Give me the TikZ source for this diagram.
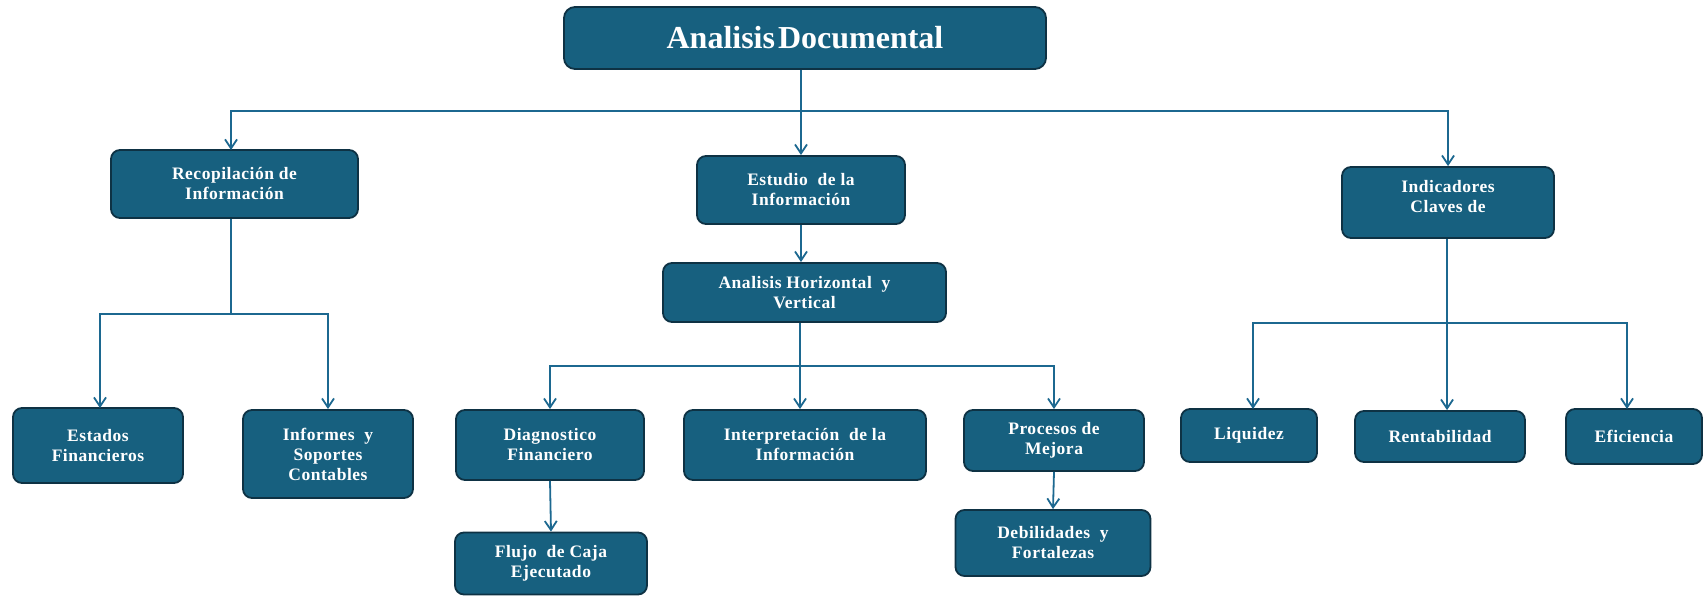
\documentclass[tikz,border=0pt]{standalone}
\usepackage{fontspec}
\setmainfont{Liberation Serif}
\newfontfamily\boxfont[LetterSpace=3]{Liberation Serif}
\usetikzlibrary{arrows.meta}
\definecolor{boxfill}{HTML}{17607F}
\definecolor{boxedge}{HTML}{0E3244}
\definecolor{conncol}{HTML}{1C6890}
\tikzset{
  box/.style={draw=boxedge, line width=1.8pt, fill=boxfill, rounded corners=9pt,
    text=white, align=center, inner sep=0pt,
    font=\boxfont\bfseries\fontsize{17.5}{20}\selectfont},
  conn/.style={draw=conncol, line width=1.8pt},
  arr/.style={conn, -{Straight Barb[length=9pt,width=12pt,line width=1.8pt]}},
}
\begin{document}
\begin{tikzpicture}[x=1pt,y=-1pt]
\useasboundingbox (0,0) rectangle (1708,596);
% nodes
\node[box, minimum width=482pt, minimum height=62pt, font=\bfseries\fontsize{32}{36}\selectfont, rounded corners=11pt] (title) at (805,38) {Analisis\hspace{3pt}Documental};
\node[box, minimum width=247pt, minimum height=68pt] (recop) at (234.5,184) {Recopilación de\\Información};
\node[box, minimum width=208pt, minimum height=68pt] (estudio) at (801,190) {Estudio\ \ de la\\Información};
\node[box, minimum width=212pt, minimum height=71pt] (indic) at (1448,202.5) {};
\node[text=white, align=center, inner sep=0pt, font=\boxfont\bfseries\fontsize{17.5}{20}\selectfont] (indictext) at (1448,197) {Indicadores\\Claves de};
\node[box, minimum width=283pt, minimum height=59pt] (anh) at (804.5,292.5) {Analisis Horizontal\ \ y\\Vertical};
\node[box, minimum width=170pt, minimum height=75pt] (estados) at (98,445.5) {Estados\\Financieros};
\node[box, minimum width=170pt, minimum height=88pt] (informes) at (328,454) {Informes\ \ y\\Soportes\\Contables};
\node[box, minimum width=188pt, minimum height=70pt] (diag) at (550,445) {Diagnostico\\Financiero};
\node[box, minimum width=242pt, minimum height=70pt] (interp) at (805,445) {Interpretación\ \ de la\\Información};
\node[box, minimum width=180pt, minimum height=61pt] (procesos) at (1054,440.5) {Procesos de\\Mejora};
\node[box, minimum width=192pt, minimum height=62pt] (flujo) at (551,563.5) {Flujo\ \ de Caja\\Ejecutado};
\node[box, minimum width=195pt, minimum height=66pt] (debil) at (1053,543) {Debilidades\ \ y\\Fortalezas};
\node[box, minimum width=136pt, minimum height=53pt] (liquidez) at (1249,435.5) {Liquidez};
\node[box, minimum width=170pt, minimum height=51pt] (rentab) at (1440,436.5) {Rentabilidad};
\node[box, minimum width=136pt, minimum height=55pt] (efic) at (1634,436.5) {Eficiencia};
% bus coordinates
\coordinate (b1) at (801,111);
\coordinate (b2) at (231,314);
\coordinate (b3) at (800,366);
\coordinate (b4) at (1447,323);
% connectors
\draw[arr] (title.south -| estudio.north) -- (estudio.north);
\draw[arr] (b1) -| (231,150);
\draw[arr] (b1) -| (indic.north);
\draw[conn] (recop.south -| b2) -- (b2);
\draw[arr] (b2) -| (100,408);
\draw[arr] (b2) -| (informes.north);
\draw[arr] (estudio.south) -- (estudio.south |- anh.north);
\draw[conn] (anh.south -| b3) -- (b3);
\draw[arr] (b3) -| (diag.north);
\draw[arr] (b3) -- (b3 |- interp.north);
\draw[arr] (b3) -| (procesos.north);
\draw[arr] (diag.south) -- (flujo.north);
\draw[arr] (procesos.south) -- (debil.north);
\draw[conn] (indic.south -| b4) -- (b4);
\draw[arr] (b4) -| (1253,409);
\draw[arr] (b4) -- (b4 |- rentab.north);
\draw[arr] (b4) -| (1627,409);
\end{tikzpicture}
\end{document}
